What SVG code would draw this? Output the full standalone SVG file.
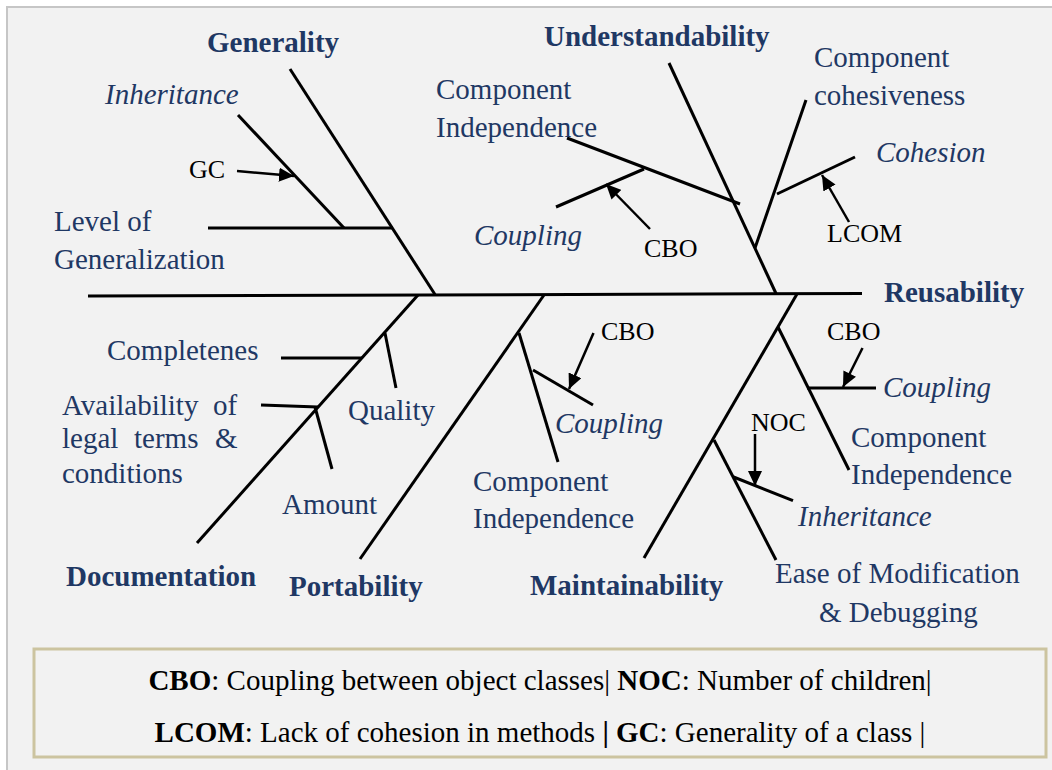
<svg xmlns="http://www.w3.org/2000/svg" width="1052" height="770" viewBox="0 0 1052 770">
<defs>
<style>
.lbl{font-family:"Liberation Serif","Times New Roman",serif;font-size:29px;fill:#1f3864}
.b{font-weight:bold}
.i{font-style:italic}
.m{font-family:"Liberation Serif","Times New Roman",serif;font-size:26px;fill:#000}
.leg{font-family:"Liberation Serif","Times New Roman",serif;font-size:29px;fill:#000}
.bone{stroke:#000;stroke-width:3;fill:none;stroke-linecap:butt}
.arr{stroke:#000;stroke-width:2.5;fill:none;marker-end:url(#ah)}
</style>
<marker id="ah" markerUnits="userSpaceOnUse" markerWidth="16" markerHeight="14" refX="15" refY="7" orient="auto">
<path d="M0,0 L15,7 L0,14 Z" fill="#000"/>
</marker>
</defs>
<rect x="0" y="0" width="1052" height="770" fill="#ffffff"/>
<rect x="7" y="7" width="1060" height="780" fill="#f2f2f2" stroke="#c6c6c6" stroke-width="2"/>

<g id="connectors">
<line class="bone" x1="88" y1="296" x2="862" y2="293.5"/>
<!-- Generality -->
<line class="bone" x1="290" y1="69" x2="435" y2="294.5"/>
<line class="bone" x1="238" y1="115" x2="344" y2="228"/>
<line class="bone" x1="208" y1="228" x2="393" y2="228"/>
<line class="arr" x1="237" y1="171" x2="294" y2="176"/>
<!-- Understandability -->
<line class="bone" x1="669" y1="63" x2="776" y2="293.5"/>
<line class="bone" x1="567" y1="138" x2="740" y2="204"/>
<line class="bone" x1="556" y1="207" x2="644" y2="169"/>
<line class="arr" x1="650" y1="229" x2="606" y2="184"/>
<line class="bone" x1="806" y1="100" x2="755" y2="248"/>
<line class="bone" x1="777" y1="194" x2="855" y2="157"/>
<line class="arr" x1="849" y1="222" x2="822" y2="175"/>
<!-- Documentation -->
<line class="bone" x1="418" y1="295" x2="197" y2="543"/>
<line class="bone" x1="385" y1="333" x2="396" y2="388"/>
<line class="bone" x1="281" y1="358" x2="362" y2="358"/>
<line class="bone" x1="261" y1="405" x2="318" y2="407"/>
<line class="bone" x1="315" y1="407" x2="332" y2="469"/>
<!-- Portability -->
<line class="bone" x1="544" y1="295" x2="360" y2="559"/>
<line class="bone" x1="519" y1="333" x2="558" y2="462"/>
<line class="bone" x1="533" y1="370" x2="593" y2="405"/>
<line class="arr" x1="593.5" y1="333" x2="569" y2="389"/>
<!-- Maintainability -->
<line class="bone" x1="797" y1="294" x2="644" y2="558"/>
<line class="bone" x1="778" y1="327" x2="849" y2="470"/>
<line class="bone" x1="807" y1="388" x2="876" y2="388"/>
<line class="arr" x1="862.5" y1="348" x2="843" y2="387"/>
<line class="bone" x1="714" y1="440" x2="776" y2="560"/>
<line class="bone" x1="733.6" y1="477" x2="793" y2="500.7"/>
<line class="arr" x1="755" y1="434" x2="755" y2="486"/>
</g>

<g id="generality">
<text class="lbl b" x="207" y="52">Generality</text>
<text class="lbl i" x="105" y="104">Inheritance</text>
<text class="m" x="189" y="178">GC</text>
<text class="lbl" x="54" y="231">Level of</text>
<text class="lbl" x="54" y="269">Generalization</text>
</g>

<g id="understandability">
<text class="lbl b" x="544" y="46">Understandability</text>
<text class="lbl" x="436" y="99">Component</text>
<text class="lbl" x="436" y="137">Independence</text>
<text class="lbl i" x="474" y="245">Coupling</text>
<text class="m" x="644" y="257">CBO</text>
<text class="lbl" x="814" y="67">Component</text>
<text class="lbl" x="814" y="105">cohesiveness</text>
<text class="lbl i" x="876" y="162">Cohesion</text>
<text class="m" x="827" y="242">LCOM</text>
</g>

<g id="reusability">
<text class="lbl b" x="884" y="302">Reusability</text>
</g>

<g id="documentation">
<text class="lbl b" x="66" y="586">Documentation</text>
<text class="lbl" x="107" y="360">Completenes</text>
<text class="lbl" y="415"><tspan x="62">Availability</tspan><tspan x="213">of</tspan></text>
<text class="lbl" y="448"><tspan x="62">legal</tspan><tspan x="134">terms</tspan><tspan x="215">&amp;</tspan></text>
<text class="lbl" x="62" y="483">conditions</text>
<text class="lbl" x="348" y="420">Quality</text>
<text class="lbl" x="282" y="514">Amount</text>
</g>

<g id="portability">
<text class="lbl b" x="289" y="596">Portability</text>
<text class="m" x="601" y="340">CBO</text>
<text class="lbl i" x="555" y="433">Coupling</text>
<text class="lbl" x="473" y="491">Component</text>
<text class="lbl" x="473" y="528">Independence</text>
</g>

<g id="maintainability">
<text class="lbl b" x="530" y="595">Maintainability</text>
<text class="m" x="827" y="340">CBO</text>
<text class="lbl i" x="883" y="397">Coupling</text>
<text class="lbl" x="851" y="447">Component</text>
<text class="lbl" x="851" y="484">Independence</text>
<text class="m" x="751" y="431">NOC</text>
<text class="lbl i" x="798" y="526">Inheritance</text>
<text class="lbl" x="775" y="583">Ease of Modification</text>
<text class="lbl" x="819" y="622">&amp; Debugging</text>
</g>

<g id="legend">
<rect x="34" y="649" width="1012" height="108" fill="#f2f2f2" stroke="#ccc4a0" stroke-width="3"/>
<text class="leg" x="540" y="690" text-anchor="middle"><tspan font-weight="bold">CBO</tspan>: Coupling between object classes| <tspan font-weight="bold">NOC</tspan>: Number of children|</text>
<text class="leg" x="540" y="742" text-anchor="middle"><tspan font-weight="bold">LCOM</tspan>: Lack of cohesion in methods <tspan font-weight="bold">|</tspan> <tspan font-weight="bold">GC</tspan>: Generality of a class |</text>
</g>
</svg>
